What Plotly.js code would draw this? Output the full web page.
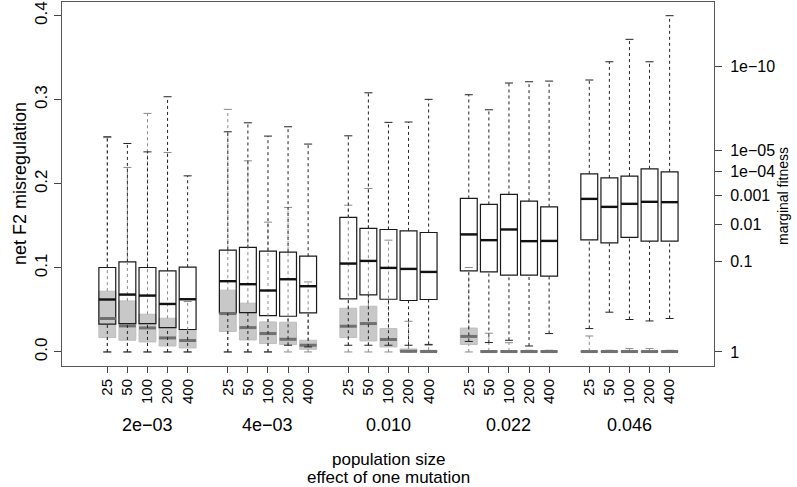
<!DOCTYPE html>
<html>
<head>
<meta charset="utf-8">
<script src="https://cdn.plot.ly/plotly-3.0.1.min.js"></script>
<style>html,body{margin:0;padding:0;background:#fff;}#chart{width:797px;height:487px;}</style>
</head>
<body>
<div id="chart"></div>
<script>
// ---- data ----
const effectLabels = ["2e\u221203", "4e\u221203", "0.010", "0.022", "0.046"];
const popSizes = ["25", "50", "100", "200", "400"];

// white boxes (net F2 misregulation)
const whiteLo  = [0, 0, 0, 0, 0,
                  0, 0, 0, 0.008, 0.006,
                  0.008, 0.008, 0.008, 0.008, 0.009,
                  0.0125, 0.0112, 0.0139, 0.0071, 0.0219,
                  0.0278, 0.0473, 0.0386, 0.0369, 0.0398];
const whiteQ1  = [0.033, 0.0338, 0.0338, 0.029, 0.0267,
                  0.0464, 0.0469, 0.0433, 0.0425, 0.0464,
                  0.0631, 0.0679, 0.0627, 0.0612, 0.0624,
                  0.0964, 0.0952, 0.0913, 0.0913, 0.0901,
                  0.1333, 0.1298, 0.1362, 0.1318, 0.1318];
const whiteMed = [0.0624, 0.0683, 0.0671, 0.0571, 0.0627,
                  0.0842, 0.0806, 0.0731, 0.0865, 0.0782,
                  0.1052, 0.1083, 0.1, 0.0988, 0.0952,
                  0.1398, 0.133, 0.1457, 0.1318, 0.1321,
                  0.1821, 0.1726, 0.1762, 0.1786, 0.1782];
const whiteQ3  = [0.1005, 0.1071, 0.1005, 0.0964, 0.1008,
                  0.1211, 0.1243, 0.1199, 0.1187, 0.1139,
                  0.16, 0.1469, 0.1457, 0.144, 0.1421,
                  0.1826, 0.1755, 0.1874, 0.1794, 0.1726,
                  0.2119, 0.2071, 0.2092, 0.2179, 0.2143];
const whiteHi  = [0.256, 0.248, 0.238, 0.3036, 0.2095,
                  0.2619, 0.2726, 0.2568, 0.2679, 0.2473,
                  0.2571, 0.3083, 0.2731, 0.2735, 0.3005,
                  0.306, 0.2881, 0.3199, 0.3214, 0.3222,
                  0.3235, 0.3452, 0.3719, 0.3452, 0.4];

// grey boxes
const greyLo  = [0, 0, 0, 0, 0,
                 0, 0, 0, 0, 0,
                 0, 0, 0, 0, 0,
                 0, 0, 0, 0, 0,
                 0, 0, 0, 0, 0];
const greyQ1  = [0.0171, 0.0139, 0.0119, 0.0071, 0.0048,
                 0.0243, 0.0143, 0.01, 0.0088, 0.0032,
                 0.0171, 0.0131, 0.006, 0, 0,
                 0.0088, 0, 0, 0, 0,
                 0, 0, 0, 0, 0];
const greyMed = [0.0398, 0.031, 0.0286, 0.0167, 0.0136,
                 0.0457, 0.029, 0.0219, 0.0151, 0.008,
                 0.0306, 0.0338, 0.0148, 0.0008, 0.0005,
                 0.0185, 0.0005, 0.0005, 0.0005, 0.0005,
                 0.0005, 0.0005, 0.0005, 0.0005, 0.0005];
const greyQ3  = [0.0723, 0.0607, 0.0449, 0.0401, 0.0263,
                 0.0735, 0.058, 0.0357, 0.0354, 0.0139,
                 0.052, 0.0544, 0.0278, 0.0036, 0.002,
                 0.0284, 0.0012, 0.0012, 0.0012, 0.0012,
                 0.0012, 0.0012, 0.0012, 0.0012, 0.0012];
const greyHi  = [0.255, 0.2195, 0.2838, 0.2373, 0.06,
                 0.2886, 0.2274, 0.1544, 0.1719, 0.0833,
                 0.1746, 0.1945, 0.133, 0.0365, 0.008,
                 0.1005, 0.0223, 0.011, 0.002, 0.002,
                 0.019, 0.002, 0.004, 0.004, 0.002];

// right axis: marginal fitness tick labels
const fitnessTicks = [1e-10, 1e-5, 1e-4, 1e-3, 0.01, 0.1, 1];
const fitnessLabels = ["1e\u221210", "1e\u221205", "1e\u221204", "0.001", "0.01", "0.1", "1"];
const fitnessScale = 200; // fitness = exp(-scale * misregulation^2)

const leftTicks = [0, 0.1, 0.2, 0.3, 0.4];
const leftLabels = ["0.0", "0.1", "0.2", "0.3", "0.4"];

// ---- layout helpers ----
const pos = [];
const tickText = [];
effectLabels.forEach((e, g) => popSizes.forEach((p, i) => { pos.push(g * 6 + i + 1); tickText.push(p); }));
const groupCenters = effectLabels.map((e, g) => g * 6 + 3);
const BW = 0.84, SW = 0.2;

function segs(xsFrom, xsTo, ysFrom, ysTo) {
  const x = [], y = [];
  for (let k = 0; k < xsFrom.length; k++) { x.push(xsFrom[k], xsTo[k], null); y.push(ysFrom[k], ysTo[k], null); }
  return {x, y};
}
function layer(lo, q1, med, q3, hi, o) {
  const tr = [];
  tr.push({type: 'box', x: pos, q1: q1, median: med, q3: q3, lowerfence: q1, upperfence: q3,
    width: BW, whiskerwidth: 0, boxpoints: false, fillcolor: o.fill,
    line: {color: o.border, width: o.bw}, hoverinfo: 'skip', showlegend: false});
  const up = segs(pos, pos, q3, hi), dn = segs(pos, pos, lo, q1);
  tr.push({type: 'scatter', mode: 'lines', x: up.x.concat(dn.x), y: up.y.concat(dn.y),
    line: {color: o.wcol, width: 1, dash: '3px,3px'}, hoverinfo: 'skip', showlegend: false});
  const l = pos.map(v => v - SW), r = pos.map(v => v + SW);
  const sh = segs(l, r, hi, hi), sl = segs(l, r, lo, lo);
  tr.push({type: 'scatter', mode: 'lines', x: sh.x.concat(sl.x), y: sh.y.concat(sl.y),
    line: {color: o.wcol, width: 1}, hoverinfo: 'skip', showlegend: false});
  const ml = pos.map(v => v - BW / 2), mr = pos.map(v => v + BW / 2);
  const md = segs(ml, mr, med, med);
  tr.push({type: 'scatter', mode: 'lines', x: md.x, y: md.y,
    line: {color: o.mcol, width: o.mw}, hoverinfo: 'skip', showlegend: false});
  return tr;
}

const traces = []
  .concat(layer(greyLo, greyQ1, greyMed, greyQ3, greyHi,
    {fill: 'rgb(200,200,200)', border: 'rgb(190,190,190)', bw: 1, wcol: '#8a8a8a', mcol: '#707070', mw: 3}))
  .concat(layer(whiteLo, whiteQ1, whiteMed, whiteQ3, whiteHi,
    {fill: 'rgba(255,255,255,0)', border: '#1a1a1a', bw: 1.2, wcol: '#222', mcol: '#111', mw: 2.4}));
// invisible trace to activate right axis
traces.push({type: 'scatter', mode: 'lines', x: [pos[0]], y: [0], yaxis: 'y2',
  line: {color: 'rgba(0,0,0,0)'}, hoverinfo: 'skip', showlegend: false});

const yr = [-0.0167, 0.4163];
const FONT = 'Liberation Sans, Arial, Helvetica, sans-serif';
const layout = {
  width: 797, height: 487,
  margin: {l: 62, r: 83, t: 2, b: 121, pad: 0},
  paper_bgcolor: '#fff', plot_bgcolor: '#fff',
  font: {family: FONT, size: 15, color: '#000'},
  boxmode: 'overlay', showlegend: false,
  xaxis: {range: [-1.256, 31.21], tickmode: 'array', tickvals: pos, ticktext: tickText,
    tickangle: -90, ticks: 'outside', ticklen: 6, tickcolor: '#444', showgrid: false, zeroline: false,
    showline: true, mirror: true, linecolor: '#555', linewidth: 1, tickfont: {size: 15}},
  yaxis: {range: yr, tickmode: 'array', tickvals: leftTicks, ticktext: leftLabels,
    tickangle: -90, ticks: 'outside', ticklen: 7, tickcolor: '#444', showgrid: false, zeroline: false,
    showline: true, mirror: true, linecolor: '#555', linewidth: 1, tickfont: {size: 17}},
  yaxis2: {overlaying: 'y', side: 'right', range: yr, tickmode: 'array',
    tickvals: fitnessTicks.map(f => Math.sqrt(-Math.log(f) / fitnessScale)), ticktext: fitnessLabels,
    ticks: 'outside', ticklen: 7, tickcolor: '#444', showgrid: false, zeroline: false,
    ticklabelstandoff: 5, showline: false, tickfont: {size: 16}},
  annotations: effectLabels.map((e, g) => ({text: e, x: groupCenters[g], xref: 'x', y: -0.162, yref: 'paper',
      showarrow: false, xanchor: 'center', yanchor: 'middle', font: {size: 18}}))
    .concat([
      {text: 'population size', x: 0.5, xref: 'paper', y: -0.2555, yref: 'paper', showarrow: false,
        xanchor: 'center', yanchor: 'middle', font: {size: 17}},
      {text: 'effect of one mutation', x: 0.5, xref: 'paper', y: -0.305, yref: 'paper', showarrow: false,
        xanchor: 'center', yanchor: 'middle', font: {size: 17}},
      {text: 'net F2 misregulation', x: -0.0644, xref: 'paper', y: 0.5, yref: 'paper', showarrow: false,
        textangle: -90, xanchor: 'center', yanchor: 'middle', font: {size: 18}},
      {text: 'marginal fitness', x: 1.1058, xref: 'paper', y: 0.467, yref: 'paper', showarrow: false,
        textangle: -90, xanchor: 'center', yanchor: 'middle', font: {size: 14}}
    ])
};
Plotly.newPlot('chart', traces, layout, {staticPlot: true, displayModeBar: false});
</script>
</body>
</html>
